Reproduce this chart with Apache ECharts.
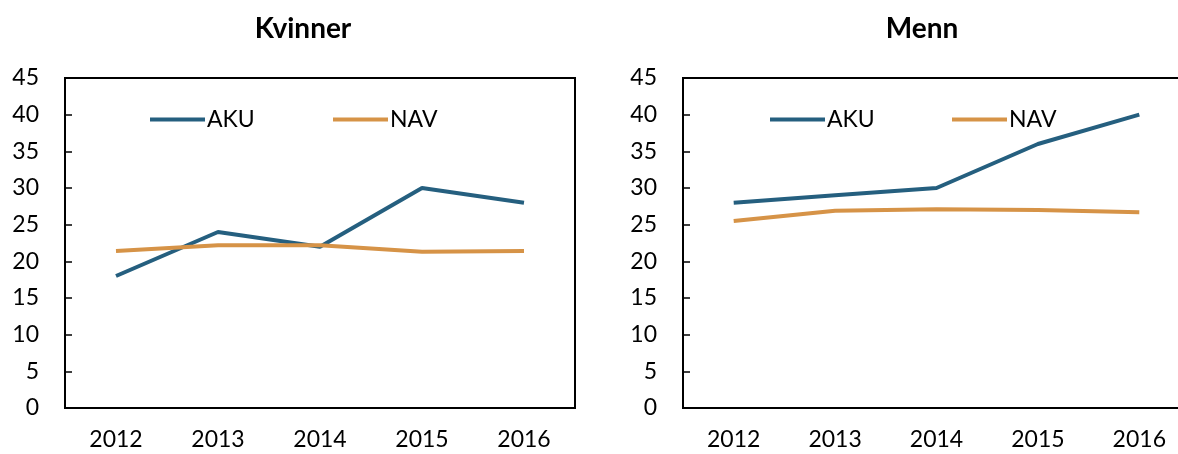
<!DOCTYPE html>
<html>
<head>
<meta charset="utf-8">
<script src="https://cdn.jsdelivr.net/npm/echarts@6/dist/echarts.min.js"></script>
<style>
  html, body { margin: 0; padding: 0; background: #fff; }
  #chart { width: 1178px; height: 454px; }
</style>
</head>
<body>
<div id="chart"></div>
<script>
var years = ["2012", "2013", "2014", "2015", "2016"];
var kvinnerAku = [18, 24, 22, 30, 28];
var kvinnerNav = [21.4, 22.2, 22.2, 21.3, 21.4];
var mennAku = [28, 29, 30, 36, 40];
var mennNav = [25.5, 26.9, 27.1, 27.0, 26.7];

var blue = "#255f7f";
var orange = "#d69347";
var font = "Lato, 'Noto Sans', sans-serif";

function xAxis(idx) {
  return {
    type: "category",
    gridIndex: idx,
    data: years,
    boundaryGap: true,
    axisLine: { lineStyle: { color: "#000", width: 2 } },
    axisTick: { inside: true, length: 7, interval: 0, lineStyle: { color: "#000", width: 1.5 } },
    axisLabel: { color: "#000", fontSize: 23, fontFamily: font, margin: 20, interval: 0 }
  };
}

function yAxis(idx) {
  return {
    type: "value",
    gridIndex: idx,
    min: 0,
    max: 45,
    interval: 5,
    axisLine: { show: true, lineStyle: { color: "#000", width: 2 } },
    axisTick: { show: true, inside: true, length: 7, lineStyle: { color: "#000", width: 1.5 } },
    axisLabel: { color: "#000", fontSize: 23, fontFamily: font, margin: 26 },
    splitLine: { show: false }
  };
}

function line(name, data, color, idx) {
  return {
    name: name,
    type: "line",
    xAxisIndex: idx,
    yAxisIndex: idx,
    data: data,
    symbol: "none",
    color: color,
    lineStyle: { color: color, width: 4 }
  };
}

function legend(name, left) {
  return {
    data: [name],
    left: left,
    top: 108,
    padding: 0,
    icon: "rect",
    itemWidth: 55,
    itemHeight: 4,
    itemGap: 0,
    textStyle: { color: "#000", fontSize: 23, fontFamily: font, padding: [0, 0, 0, -3] }
  };
}

var chart = echarts.init(document.getElementById("chart"));
chart.setOption({
  animation: false,
  backgroundColor: "#fff",
  title: [
    { text: "Kvinner", left: 298, top: 10, textAlign: "center",
      textStyle: { fontSize: 28, fontWeight: "bold", color: "#000", fontFamily: font } },
    { text: "Menn", left: 917, top: 10, textAlign: "center",
      textStyle: { fontSize: 28, fontWeight: "bold", color: "#000", fontFamily: font } }
  ],
  grid: [
    { left: 65, top: 78, width: 510, height: 330, outerBoundsMode: "none",
      show: true, borderColor: "#000", borderWidth: 2 },
    { left: 683, top: 78, width: 507, height: 330, outerBoundsMode: "none",
      show: true, borderColor: "#000", borderWidth: 2 }
  ],
  legend: [
    legend("AKU", 150),
    legend("NAV", 333),
    legend("AKU", 770),
    legend("NAV", 952)
  ],
  xAxis: [xAxis(0), xAxis(1)],
  yAxis: [yAxis(0), yAxis(1)],
  series: [
    line("AKU", kvinnerAku, blue, 0),
    line("NAV", kvinnerNav, orange, 0),
    line("AKU", mennAku, blue, 1),
    line("NAV", mennNav, orange, 1)
  ]
});
</script>
</body>
</html>
